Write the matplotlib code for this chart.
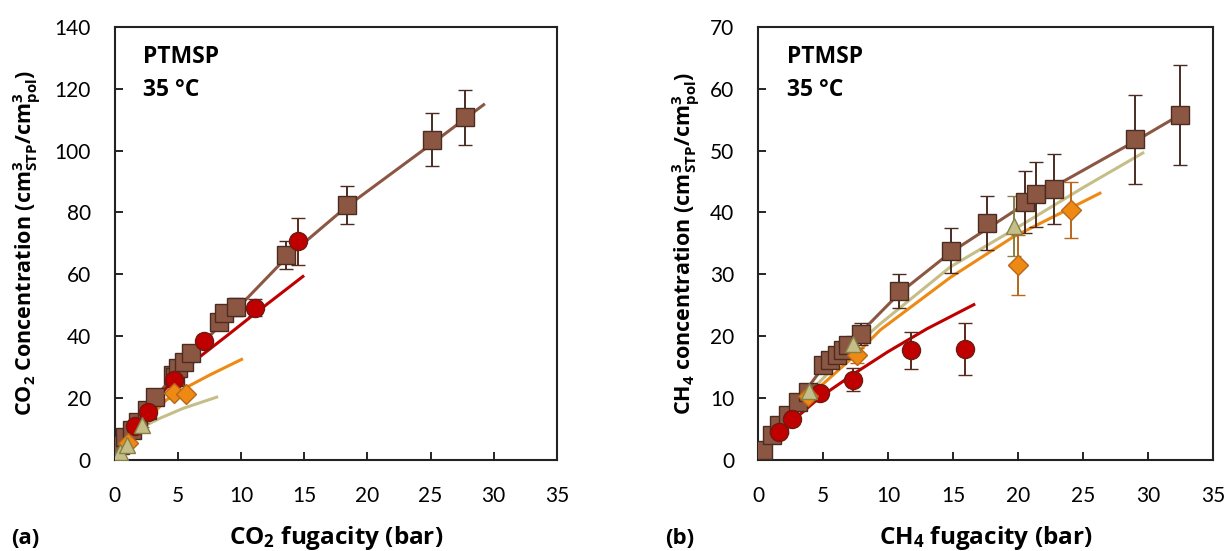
import numpy as np
import matplotlib
matplotlib.use("Agg")
import matplotlib.pyplot as plt

plt.rcParams['font.family'] = ['Lato', 'DejaVu Sans']
plt.rcParams['mathtext.fontset'] = 'custom'
plt.rcParams['mathtext.rm'] = 'Open Sans'
plt.rcParams['mathtext.bf'] = 'Open Sans:bold'
plt.rcParams['mathtext.default'] = 'bf'

BOLD = ['Open Sans', 'DejaVu Sans']

# ---- (a) CO2 ----
co2_sq_x = [0.43, 0.83, 1.36, 1.83, 2.54, 3.2, 4.65, 4.78, 5.05, 5.49, 6.02, 8.29, 8.66, 9.6, 13.53, 18.36, 25.15, 27.7]
co2_sq_y = [4.8, 7.5, 9.7, 12.4, 16.2, 20.3, 27.5, 26.9, 29.6, 31.8, 34.5, 44.7, 47.6, 49.4, 66.3, 82.4, 103.5, 110.7]
co2_sq_e = [0.5, 0.6, 0.7, 0.8, 1.0, 1.2, 1.5, 1.5, 1.6, 1.7, 1.8, 2.3, 2.5, 3.0, 4.5, 6.0, 8.5, 9.0]
co2_ci_x = [1.62, 2.67, 4.7, 7.07, 11.1, 14.53]
co2_ci_y = [11.0, 15.6, 26.0, 38.3, 49.2, 70.6]
co2_ci_e = [0.6, 0.8, 1.2, 2.0, 2.7, 7.5]
co2_di_x = [1.1, 4.7, 5.65]
co2_di_y = [5.4, 21.8, 21.3]
co2_di_e = [0.4, 1.0, 1.0]
co2_tr_x = [0.43, 0.96, 2.15]
co2_tr_y = [2.7, 4.85, 11.3]
co2_tr_e = [0.3, 0.4, 0.6]

co2_brown_x = [0, 1, 3.2, 5, 7, 9.6, 13.5, 18.4, 25.2, 29.2]
co2_brown_y = [0, 7.5, 20, 29, 38, 48.5, 65, 82, 102.5, 114.8]
co2_red_x = [0, 1, 2, 3.6, 4.9, 6.76, 9, 11.1, 14.9]
co2_red_y = [0, 7.5, 13.5, 21, 27, 33.4, 40.5, 47.3, 59.3]
co2_orange_x = [0, 0.6, 1.49, 2.8, 4.1, 5.7, 7.55, 10.05]
co2_orange_y = [0, 3.8, 8.1, 14, 19.4, 23.5, 27.5, 32.5]
co2_khaki_x = [0, 0.5, 1.22, 2.28, 3.6, 5.44, 8.08]
co2_khaki_y = [0, 3.2, 6.5, 10.8, 13.5, 16.7, 20.3]

# ---- (b) CH4 ----
ch4_sq_x = [0.36, 1.05, 1.64, 2.33, 3.1, 3.87, 5.03, 5.54, 6.05, 6.5, 6.95, 7.9, 10.87, 14.82, 17.6, 20.5, 21.4, 22.77, 29.0, 32.46]
ch4_sq_y = [1.6, 4.0, 5.6, 7.3, 9.4, 11.0, 15.3, 16.1, 16.9, 17.7, 18.5, 20.3, 27.3, 33.8, 38.3, 41.7, 42.9, 43.8, 51.8, 55.7]
ch4_sq_e = [0.3, 0.4, 0.5, 0.6, 0.7, 0.8, 1.0, 1.1, 1.2, 1.3, 1.4, 1.8, 2.7, 3.6, 4.3, 5.0, 5.2, 5.6, 7.2, 8.1]
ch4_ci_x = [1.64, 2.64, 4.77, 7.33, 11.74, 15.9]
ch4_ci_y = [4.6, 6.6, 10.75, 13.0, 17.7, 18.0]
ch4_ci_e = [0.4, 0.5, 0.8, 1.9, 3.0, 4.2]
ch4_di_x = [3.87, 7.59, 19.97, 24.05]
ch4_di_y = [10.3, 16.9, 31.5, 40.4]
ch4_di_e = [0.7, 1.2, 4.9, 4.5]
ch4_tr_x = [3.9, 7.33, 19.7]
ch4_tr_y = [11.2, 18.8, 37.8]
ch4_tr_e = [0.7, 1.2, 4.8]

ch4_brown_x = [0, 2, 5, 7.9, 10.9, 14.8, 18.6, 20.5, 22.8, 29, 32.5]
ch4_brown_y = [0, 6.5, 15, 20.6, 27, 33.5, 38.7, 41.3, 44.2, 51.5, 55.8]
ch4_red_x = [0, 1, 2.7, 4.8, 7.5, 10, 13, 16.6]
ch4_red_y = [0, 2.6, 6.4, 10.2, 14.1, 17.5, 21.2, 25.1]
ch4_orange_x = [0, 2, 3.8, 7.5, 9.4, 14.8, 19.6, 26.3]
ch4_orange_y = [0, 5.5, 10, 17, 21, 29.5, 36, 43.1]
ch4_khaki_x = [0, 2, 3.5, 7.5, 9.4, 14.8, 19.9, 25, 29.6]
ch4_khaki_y = [0, 6, 10, 18.5, 22, 31.2, 37.5, 44, 49.6]

BROWN = '#8B5742'
BROWN_EDGE = '#4A2C22'
RED = '#C00000'
RED_EDGE = '#6E1A10'
ORANGE = '#EE8A14'
ORANGE_EDGE = '#B8661A'
KHAKI = '#C6BE88'
KHAKI_EDGE = '#858045'

fig = plt.figure(figsize=(12.29, 5.51), dpi=100)
ax1 = fig.add_axes([0.0932, 0.1652, 0.3600, 0.7863])
ax2 = fig.add_axes([0.6168, 0.1652, 0.3702, 0.7863])


def draw_panel(ax, lines, sets):
    for (lx, ly, c) in lines:
        ax.plot(lx, ly, color=c, lw=2.2, zorder=2)
    for (x, y, e, mk, ms, fc, ec, erc) in sets:
        ax.errorbar(x, y, yerr=e, fmt=mk, ms=ms, mfc=fc, mec=ec, mew=1.0,
                    ecolor=erc, elinewidth=1.4, capsize=5, capthick=1.4, zorder=3)


draw_panel(ax1,
           [(co2_brown_x, co2_brown_y, BROWN), (co2_red_x, co2_red_y, RED),
            (co2_orange_x, co2_orange_y, ORANGE), (co2_khaki_x, co2_khaki_y, KHAKI)],
           [(co2_sq_x, co2_sq_y, co2_sq_e, 's', 13, BROWN, BROWN_EDGE, BROWN_EDGE),
            (co2_ci_x, co2_ci_y, co2_ci_e, 'o', 13, RED, RED_EDGE, '#5A2A1A'),
            (co2_di_x, co2_di_y, co2_di_e, 'D', 10, ORANGE, ORANGE_EDGE, ORANGE_EDGE),
            (co2_tr_x, co2_tr_y, co2_tr_e, '^', 12, KHAKI, KHAKI_EDGE, KHAKI_EDGE)])

draw_panel(ax2,
           [(ch4_brown_x, ch4_brown_y, BROWN), (ch4_red_x, ch4_red_y, RED),
            (ch4_orange_x, ch4_orange_y, ORANGE), (ch4_khaki_x, ch4_khaki_y, KHAKI)],
           [(ch4_sq_x, ch4_sq_y, ch4_sq_e, 's', 13, BROWN, BROWN_EDGE, BROWN_EDGE),
            (ch4_ci_x, ch4_ci_y, ch4_ci_e, 'o', 13, RED, RED_EDGE, '#5A2A1A'),
            (ch4_di_x, ch4_di_y, ch4_di_e, 'D', 10, ORANGE, ORANGE_EDGE, ORANGE_EDGE),
            (ch4_tr_x, ch4_tr_y, ch4_tr_e, '^', 12, KHAKI, KHAKI_EDGE, KHAKI_EDGE)])

for ax, ymax, ystep in [(ax1, 140, 20), (ax2, 70, 10)]:
    ax.set_xlim(0, 35)
    ax.set_ylim(0, ymax)
    ax.set_xticks(np.arange(0, 36, 5))
    ax.set_yticks(np.arange(0, ymax + 1, ystep))
    ax.tick_params(direction='in', length=6, width=1.2, labelsize=15, colors='black')
    ax.tick_params(axis='x', pad=19)
    ax.tick_params(axis='y', pad=17)
    for sp in ax.spines.values():
        sp.set_linewidth(1.5)
        sp.set_color('#222222')
    ax.text(0.064, 0.931, 'PTMSP', transform=ax.transAxes, fontsize=16.5,
            fontweight='bold', family=BOLD, va='center')
    ax.text(0.064, 0.854, '35 °C', transform=ax.transAxes, fontsize=16.5,
            fontweight='bold', family=BOLD, va='center')

ax1.set_xlabel('CO$_2$ fugacity (bar)', labelpad=13, fontsize=17.5, fontweight='bold', family=BOLD)
ax1.set_ylabel('CO$_2$ Concentration (cm$^3_{STP}$/cm$^3_{pol}$)', labelpad=8,
               fontsize=15.5, fontweight='bold', family=BOLD)
ax2.set_xlabel('CH$_4$ fugacity (bar)', labelpad=13, fontsize=17.5, fontweight='bold', family=BOLD)
ax2.set_ylabel('CH$_4$ concentration (cm$^3_{STP}$/cm$^3_{pol}$)', labelpad=6,
               fontsize=15.5, fontweight='bold', family=BOLD)

fig.text(0.009, 0.012, '(a)', fontsize=16, fontweight='bold', family=BOLD)
fig.text(0.541, 0.012, '(b)', fontsize=16, fontweight='bold', family=BOLD)

fig.savefig('out.png', dpi=100)
